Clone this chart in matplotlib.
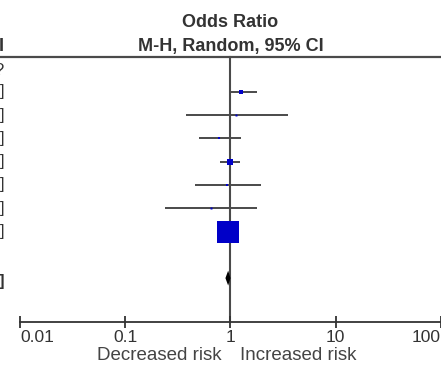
import numpy as np
import matplotlib
matplotlib.use("Agg")
import matplotlib.pyplot as plt
import matplotlib.transforms as mtransforms

plt.rcParams["font.family"] = ["Liberation Sans", "DejaVu Sans"]

# per-study odds ratios (row 0 is not estimable)
rows = [1, 2, 3, 4, 5, 6, 7]
odds = [1.27, 1.14, 0.77, 0.98, 0.92, 0.65, 0.95]
ci_low = [0.96, 0.38, 0.50, 0.80, 0.455, 0.24, 0.87]
ci_high = [1.77, 3.55, 1.27, 1.22, 1.97, 1.77, 1.03]
weights = [2.9, 0.7, 1.1, 6.4, 1.6, 0.7, 86.6]

# pooled estimate
total_row = 9
total_or, total_low, total_high = 0.95, 0.895, 1.0

ticks = [0.01, 0.1, 1, 10, 100]
tick_labels = ["0.01", "0.1", "1", "10", "100"]

W, H = 441, 367
fig = plt.figure(figsize=(W / 100, H / 100), dpi=100)
ax = fig.add_axes([0, 0, 1, 1])
ax.set_xscale("log")

# row i sits at pixel y = 68.4 + 23.3 * i
y0, dy = 68.4, 23.3
ax.set_ylim((H - y0) / dy, -y0 / dy)
ax.set_xlim(10 ** (-2 - 20 / 105.25), 100)

line_col = "#4a4a4a"
text_col = "#333333"
blue = "#0000c8"

# confidence intervals and weighted squares
for r, o, lo, hi, w in zip(rows, odds, ci_low, ci_high, weights):
    ax.plot([lo, hi], [r, r], color=line_col, lw=1.4, solid_capstyle="butt", zorder=2)
    size_px = 2.36 * np.sqrt(w)
    ax.plot(o, r, marker="s", ms=size_px * 0.72, color=blue, mec=blue, mew=0, zorder=3)

# pooled diamond
h = 0.32
ax.fill([total_low, total_or, total_high, total_or],
        [total_row, total_row - h, total_row, total_row + h],
        color="black", zorder=3, lw=0)

# line of no effect
axis_y = (322 - y0) / dy
top_y = (57 - y0) / dy
ax.plot([1, 1], [top_y, axis_y], color=line_col, lw=1.5, zorder=1)

# header rule
ax.axhline(top_y, color=line_col, lw=1.6)

# bottom axis
for s in ["top", "left", "right"]:
    ax.spines[s].set_visible(False)
ax.spines["bottom"].set_position(("data", axis_y))
ax.spines["bottom"].set_bounds(0.01, 100)
ax.spines["bottom"].set_color(text_col)
ax.spines["bottom"].set_linewidth(1.3)
ax.set_xticks(ticks)
ax.set_xticklabels(tick_labels)
ax.xaxis.set_minor_locator(matplotlib.ticker.NullLocator())
ax.tick_params(axis="x", direction="inout", length=8, width=1.3, color=text_col,
               labelsize=12.5, labelcolor=text_col, pad=2)
ax.set_yticks([])
labels = ax.get_xticklabels()
labels[0].set_ha("left")
labels[-1].set_ha("right")

# header
ax.text(1, -1.99, "Odds Ratio", ha="center", va="center", fontsize=13,
        fontweight="bold", color=text_col)
ax.text(1, -0.96, "M-H, Random, 95% CI", ha="center", va="center", fontsize=13,
        fontweight="bold", color=text_col)

# favours labels under the axis
px = mtransforms.blended_transform_factory(
    mtransforms.Affine2D().scale(1 / W, 1) + fig.transFigure, ax.transData)
lab_y = (356 - y0) / dy
ax.text(222, lab_y, "Decreased risk", transform=px, ha="right", va="center",
        fontsize=13.5, color="#444444")
ax.text(240, lab_y, "Increased risk", transform=px, ha="left", va="center",
        fontsize=13.5, color="#444444")

# edge of the left-hand text columns
ax.text(3.5, -0.96, "I", transform=px, ha="right", va="center",
        fontsize=13, fontweight="bold", color=text_col)
ax.text(4, 0.1, "?", transform=px, ha="right", va="center", fontsize=12, color=text_col)
for r in rows:
    ax.text(4, r, "]", transform=px, ha="right", va="center", fontsize=12, color=text_col)
ax.text(4, total_row + 0.15, "]", transform=px, ha="right", va="center",
        fontsize=12, fontweight="bold", color=text_col)

fig.savefig("out.png", dpi=100)
